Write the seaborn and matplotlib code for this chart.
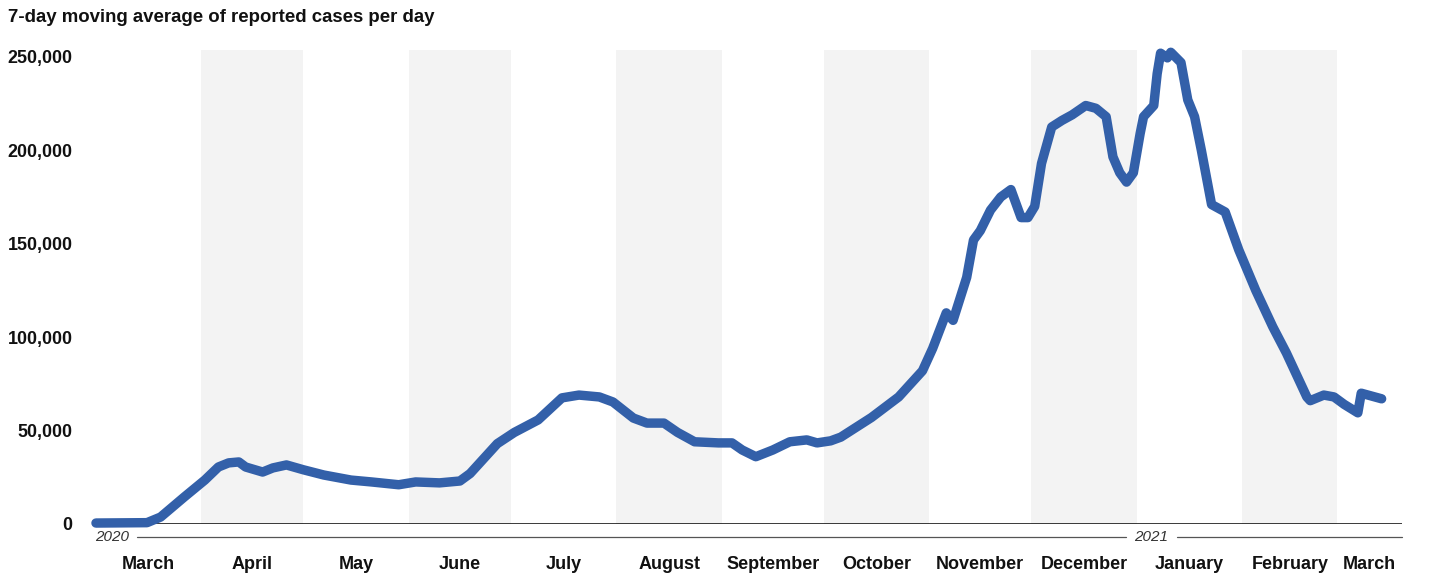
#7-day moving average of reported cases - line chart with alternating month bands
import matplotlib
matplotlib.use("Agg")
import matplotlib.pyplot as plt
import matplotlib.ticker as mticker
import seaborn as sns
import pandas as pd

#Data
dates = [
    "2020-03-01", "2020-03-16", "2020-03-20", "2020-03-27", "2020-04-02", "2020-04-06",
    "2020-04-09", "2020-04-12", "2020-04-14", "2020-04-19", "2020-04-22", "2020-04-26",
    "2020-05-01", "2020-05-07", "2020-05-15", "2020-05-21", "2020-05-29", "2020-06-03",
    "2020-06-10", "2020-06-16", "2020-06-19", "2020-06-27", "2020-07-02", "2020-07-09",
    "2020-07-16", "2020-07-21", "2020-07-27", "2020-07-31", "2020-08-06", "2020-08-10",
    "2020-08-15", "2020-08-19", "2020-08-24", "2020-08-31", "2020-09-04", "2020-09-07",
    "2020-09-11", "2020-09-16", "2020-09-21", "2020-09-26", "2020-09-29", "2020-10-03",
    "2020-10-06", "2020-10-15", "2020-10-23", "2020-10-30", "2020-11-02", "2020-11-06",
    "2020-11-08", "2020-11-12", "2020-11-14", "2020-11-16", "2020-11-19", "2020-11-22",
    "2020-11-25", "2020-11-28", "2020-11-30", "2020-12-02", "2020-12-04", "2020-12-07",
    "2020-12-10", "2020-12-13", "2020-12-17", "2020-12-20", "2020-12-23", "2020-12-25",
    "2020-12-27", "2020-12-29", "2020-12-31", "2021-01-02", "2021-01-03", "2021-01-06",
    "2021-01-07", "2021-01-08", "2021-01-10", "2021-01-11", "2021-01-14", "2021-01-16",
    "2021-01-18", "2021-01-20", "2021-01-23", "2021-01-27", "2021-01-31", "2021-02-05",
    "2021-02-10", "2021-02-14", "2021-02-20", "2021-02-21", "2021-02-25", "2021-02-28",
    "2021-03-03", "2021-03-07", "2021-03-08", "2021-03-10", "2021-03-14",
]
cases = [
    500, 700, 3700, 14500, 23500, 30500,
    32700, 33200, 30500, 27800, 30000, 31600,
    29000, 26200, 23500, 22500, 21000, 22500,
    22000, 23000, 27000, 43000, 49000, 55700,
    67500, 69000, 68000, 65300, 56700, 54000,
    54000, 49000, 44000, 43400, 43400, 39600,
    36000, 39600, 44000, 45000, 43400, 44500,
    46500, 57000, 68000, 82000, 94000, 113000,
    109000, 132000, 152000, 157000, 168000, 175000,
    179000, 164000, 164000, 170000, 193000, 212500,
    216000, 219000, 224000, 222500, 218000, 196500,
    188000, 183000, 188000, 209000, 218000, 224000,
    241000, 252000, 249500, 252500, 247000, 227000,
    218000, 200000, 171000, 167000, 146700, 125000,
    105500, 91500, 68000, 66000, 69000, 68000,
    64000, 59500, 70000, 69000, 67000,
]

month_starts = [
    "2020-03-01", "2020-04-01", "2020-05-01", "2020-06-01", "2020-07-01", "2020-08-01",
    "2020-09-01", "2020-10-01", "2020-11-01", "2020-12-01", "2021-01-01", "2021-02-01",
    "2021-03-01", "2021-04-01",
]
month_names = ["March", "April", "May", "June", "July", "August", "September",
               "October", "November", "December", "January", "February", "March"]
y_ticks = [0, 50000, 100000, 150000, 200000, 250000]

df = pd.DataFrame({"date": pd.to_datetime(dates), "cases": cases})
starts = pd.to_datetime(month_starts)
x_min, x_max = pd.Timestamp("2020-02-29"), pd.Timestamp("2021-03-20")

sns.set_style("white")
plt.rcParams["font.family"] = ["Liberation Sans", "DejaVu Sans"]

fig = plt.figure(figsize=(14.33, 5.77), dpi=100)
ax = fig.add_axes([0.0646, 0.0919, 0.9138, 0.8214])

#Alternate month shading
for i in range(1, len(starts) - 1, 2):
    ax.axvspan(starts[i], starts[i + 1], color="#f3f3f3", lw=0, zorder=0)

ax.axhline(0, color="black", lw=1.8, zorder=2)

sns.lineplot(data=df, x="date", y="cases", ax=ax, color="#3360a9", lw=6.8,
             solid_capstyle="round", solid_joinstyle="round", zorder=3, clip_on=False)

ax.set_xlim(x_min, x_max)
ax.set_ylim(0, 253700)
for s in ax.spines.values():
    s.set_visible(False)

#Y axis labels
ax.set_yticks(y_ticks)
ax.yaxis.set_major_formatter(mticker.FuncFormatter(lambda v, p: f"{int(v):,}"))
ax.tick_params(axis="y", length=0, pad=14.4, labelsize=12.9)
for lbl in ax.get_yticklabels():
    lbl.set_fontweight("bold")
    lbl.set_color("#111111")

#Month labels centred in the visible part of each month
label_pos = []
for i in range(len(month_names)):
    a = max(starts[i], x_min)
    b = min(starts[i + 1], x_max)
    label_pos.append(a + (b - a) / 2)
ax.set_xticks(label_pos)
ax.set_xticklabels(month_names)
ax.tick_params(axis="x", length=0, pad=23, labelsize=13)
for lbl in ax.get_xticklabels():
    lbl.set_fontweight("bold")
    lbl.set_color("#111111")
ax.set_xlabel("")
ax.set_ylabel("")

#Year rule under the axis
yr_y = -0.0274
ax.plot([0.034, 0.789], [yr_y, yr_y], transform=ax.transAxes, color="#555555",
        lw=0.9, clip_on=False)
ax.plot([0.828, 1.0], [yr_y, yr_y], transform=ax.transAxes, color="#555555",
        lw=0.9, clip_on=False)
ax.text(0.002, yr_y, "2020", transform=ax.transAxes, ha="left", va="center",
        fontsize=11, style="italic", color="#333333")
ax.text(0.808, yr_y, "2021", transform=ax.transAxes, ha="center", va="center",
        fontsize=11, style="italic", color="#333333")

fig.text(8 / 1433, 1 - 17 / 577, "7-day moving average of reported cases per day",
         ha="left", va="center", fontsize=13.4, fontweight="bold", color="#111111")

fig.savefig("out.png", dpi=100, facecolor="white")
